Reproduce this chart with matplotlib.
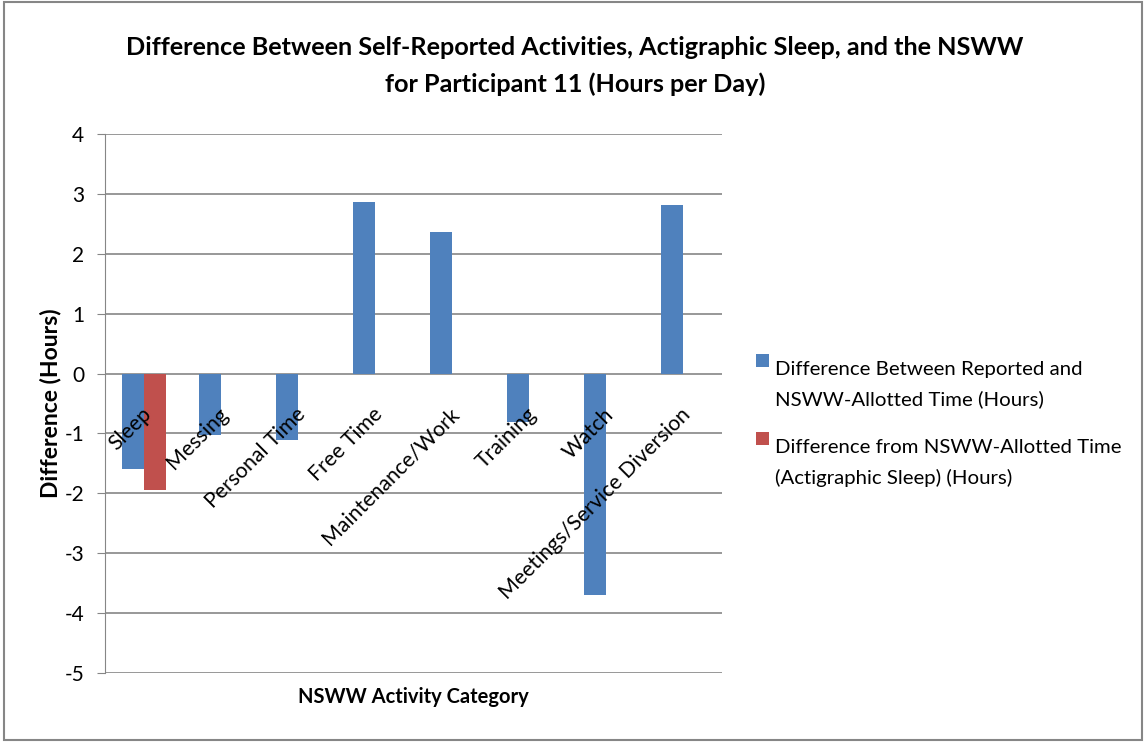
import numpy as np
import matplotlib
matplotlib.use('Agg')
import matplotlib.pyplot as plt
from matplotlib.patches import Rectangle
from matplotlib import legend_handler
from matplotlib.container import BarContainer

# Data
categories = ['Sleep', 'Messing', 'Personal Time', 'Free Time', 'Maintenance/Work',
              'Training', 'Watch', 'Meetings/Service Diversion']
reported_diff = [-1.59, -1.03, -1.11, 2.86, 2.37, -0.81, -3.69, 2.82]
actigraphic_diff = [-1.95, np.nan, np.nan, np.nan, np.nan, np.nan, np.nan, np.nan]
yticks = [-5, -4, -3, -2, -1, 0, 1, 2, 3, 4]

series_names = ['Difference Between Reported and\nNSWW-Allotted Time (Hours)',
                'Difference from NSWW-Allotted Time\n(Actigraphic Sleep) (Hours)']

plt.rcParams['font.family'] = ['Lato', 'DejaVu Sans']

W, H = 1146, 742
fig = plt.figure(figsize=(W / 100, H / 100), dpi=100)

# outer chart border
fig.patches.append(Rectangle((4 / W, 2 / H), (W - 8) / W, (H - 4) / H,
                             transform=fig.transFigure, fill=False,
                             edgecolor='#868686', linewidth=1.5))

ax = fig.add_axes([105 / W, (H - 673) / H, 617 / W, 539 / H])

x = np.arange(len(categories))
bw = 0.286
b1 = ax.bar(x - bw / 2, reported_diff, bw, color='#4F81BD', label=series_names[0], zorder=3)
b2 = ax.bar(x + bw / 2, actigraphic_diff, bw, color='#C0504D', label=series_names[1], zorder=3)

ax.set_xlim(-0.5, len(categories) - 0.5)
ax.set_ylim(-5, 4)
ax.set_yticks(yticks)
ax.set_yticklabels([str(t) for t in yticks], fontsize=15)
ax.yaxis.grid(True, color='#868686', linewidth=1.2, zorder=0)
ax.set_xticks([])
ax.tick_params(axis='y', length=6, color='#868686', pad=9)

for s in ['top', 'right', 'bottom']:
    ax.spines[s].set_visible(False)
ax.spines['left'].set_color('#868686')

# category labels drawn at the zero line, rotated like Excel
for xi, lab in zip(x, categories):
    ax.annotate(lab, xy=(xi, 0), xytext=(-2, -22), textcoords='offset points',
                rotation=45, ha='right', va='top', rotation_mode='anchor',
                fontsize=15.3)

ax.set_ylabel('Difference (Hours)', fontsize=16.5, fontweight='bold', labelpad=2)
ax.set_xlabel('NSWW Activity Category', fontsize=14.5, fontweight='bold', labelpad=10)

fig.text(575 / W, 1 - 66 / H,
         'Difference Between Self-Reported Activities, Actigraphic Sleep, and the NSWW\n'
         'for Participant 11 (Hours per Day)',
         ha='center', va='center', fontsize=18.2, fontweight='bold', linespacing=1.7)


# legend squares sit next to the first line of each entry, as in Excel
def top_square(legend, orig_handle, xdescent, ydescent, width, height, fontsize):
    return Rectangle((-xdescent, -ydescent + 17.5), width, height)


hmap = {BarContainer: legend_handler.HandlerPatch(
    patch_func=top_square, update_func=legend_handler.update_from_first_child)}
leg = fig.legend(handles=[b1, b2], labels=series_names, handler_map=hmap,
                 loc='center left', bbox_to_anchor=(738 / W, 1 - 424 / H), frameon=False,
                 fontsize=14.7, handlelength=0.6, handleheight=0.6, handletextpad=0.3,
                 labelspacing=1.5)
for t in leg.get_texts():
    t.set_linespacing(1.86)

fig.savefig('out.png', dpi=100)
